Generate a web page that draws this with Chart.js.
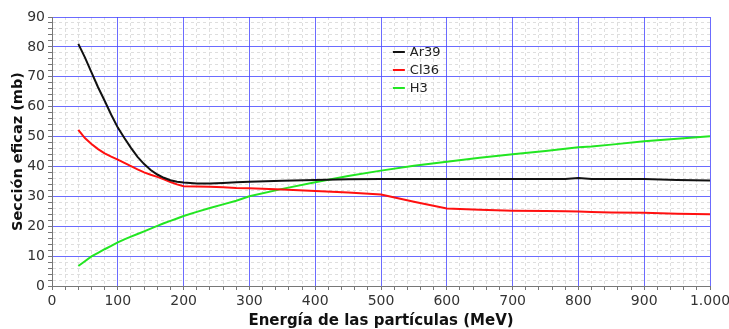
<!DOCTYPE html>
<html>
<head>
<meta charset="utf-8">
<script src="https://cdn.jsdelivr.net/npm/chart.js@4/dist/chart.umd.min.js"></script>
<style>
  html, body { margin: 0; padding: 0; background: #fff; }
  #chart { display: block; }
</style>
</head>
<body>
<canvas id="chart" width="729" height="329"></canvas>
<script>
// Sección eficaz vs energía de las partículas (Ar39 / Cl36 / H3)

// ── data ──────────────────────────────────────────────────────────────────────
const energies = [40, 50, 60, 70, 80, 90, 100, 110, 120, 130, 140, 150, 160, 170, 180, 190, 200,
    220, 240, 260, 280, 300, 350, 400, 450, 500, 550, 600, 650, 700, 750, 780, 800, 820, 850, 900, 950, 1000];

const ar39 = [81, 76.5, 71.5, 66.5, 62, 57.3, 53, 49.5, 46.2, 43.2, 40.8, 38.8, 37.3, 36.2, 35.4, 34.9, 34.6,
    34.3, 34.3, 34.5, 34.7, 34.9, 35.2, 35.5, 35.7, 35.8, 35.8, 35.8, 35.8, 35.8, 35.8, 35.8, 36.1, 35.8, 35.8, 35.8, 35.5, 35.3];

const cl36 = [52.2, 49.5, 47.5, 45.8, 44.4, 43.3, 42.3, 41.2, 40.1, 39, 38, 37.2, 36.5, 35.7, 34.8, 34, 33.4,
    33.3, 33.2, 33.0, 32.8, 32.7, 32.3, 31.8, 31.3, 30.6, 28.2, 25.9, 25.5, 25.2, 25.1, 25, 24.9, 24.8, 24.6, 24.5, 24.2, 24.0];

const h3 = [6.7, 8.3, 9.9, 11.1, 12.3, 13.4, 14.6, 15.6, 16.5, 17.4, 18.3, 19.2, 20.1, 21, 21.8, 22.6, 23.4,
    24.8, 26.1, 27.3, 28.5, 30.0, 32.5, 34.7, 36.8, 38.6, 40.2, 41.6, 42.9, 44.1, 45.2, 45.9, 46.4, 46.7, 47.3, 48.4, 49.3, 50.1];

const seriesLabels = ['Ar39', 'Cl36', 'H3'];
const xTickLabels = ['0', '100', '200', '300', '400', '500', '600', '700', '800', '900', '1.000'];
const yTickLabels = ['0', '10', '20', '30', '40', '50', '60', '70', '80', '90'];

// ── style ─────────────────────────────────────────────────────────────────────
const FONT = 'DejaVu Sans';
const MAJOR_COLOR = 'rgba(70,70,255,0.8)';
const MINOR_COLOR = 'rgba(0,0,0,0.13)';
const TICK_COLOR = '#777';

function points(ys) {
    return energies.map((x, i) => ({ x, y: ys[i] }));
}

function isMajor(value, step) {
    return Math.abs(value / step - Math.round(value / step)) < 1e-6;
}

// scale with minor steps, blue solid lines on major steps, dashed grey elsewhere
function gridScale(min, max, minorStep, majorStep, labels, title, titleSize, afterFit) {
    return {
        type: 'linear', min, max,
        afterFit,
        ticks: {
            stepSize: minorStep, autoSkip: false, maxRotation: 0,
            color: '#333', padding: 3,
            font: { family: FONT, size: 14 },
            callback: v => isMajor(v, majorStep) ? labels[Math.round(v / majorStep)] : ''
        },
        grid: {
            color: c => c.tick && isMajor(c.tick.value, majorStep) ? MAJOR_COLOR : MINOR_COLOR,
            lineWidth: 1,
            tickLength: 4,
            tickColor: TICK_COLOR
        },
        border: {
            display: true, color: TICK_COLOR, width: 1,
            dash: c => (c.tick && !isMajor(c.tick.value, majorStep)) ? [3, 3] : []
        },
        title: {
            display: true, text: title, color: '#111',
            font: { family: FONT, size: titleSize, weight: 'bold', lineHeight: 1.1 },
            padding: { top: 0, bottom: 0 }
        }
    };
}

// legend drawn inside the plot area, as in the original
const insideLegend = {
    id: 'insideLegend',
    afterDatasetsDraw(chart) {
        const { ctx, chartArea } = chart;
        const x0 = chartArea.left + chartArea.width * 0.518;
        ctx.save();
        ctx.font = `13px ${FONT}`;
        ctx.textBaseline = 'middle';
        chart.data.datasets.forEach((ds, i) => {
            const y = chartArea.top + 35 + i * 18;
            ctx.strokeStyle = ds.borderColor;
            ctx.lineWidth = 2;
            ctx.beginPath();
            ctx.moveTo(x0, y);
            ctx.lineTo(x0 + 12, y);
            ctx.stroke();
            ctx.fillStyle = '#222';
            ctx.fillText(ds.label, x0 + 17, y + 1);
        });
        ctx.restore();
    }
};

// ── chart ─────────────────────────────────────────────────────────────────────
const colors = ['#111111', '#ff1010', '#22e622'];
const seriesData = [ar39, cl36, h3];

new Chart(document.getElementById('chart').getContext('2d'), {
    type: 'line',
    data: {
        datasets: seriesData.map((ys, i) => ({
            label: seriesLabels[i],
            data: points(ys),
            borderColor: colors[i],
            borderWidth: 2,
            pointRadius: 0,
            tension: 0,
            fill: false
        }))
    },
    options: {
        responsive: false,
        animation: false,
        layout: { padding: { left: 10, right: 19, top: 17, bottom: 0 } },
        plugins: { legend: { display: false }, tooltip: { enabled: false } },
        scales: {
            x: gridScale(0, 1000, 20, 100, xTickLabels, 'Energía de las partículas (MeV)', 15,
                s => { s.height = 43; s.paddingRight = 0; s.paddingLeft = 0; }),
            y: gridScale(0, 90, 2, 10, yTickLabels, 'Sección eficaz (mb)', 14.5,
                s => { s.width = 42; s.paddingTop = 0; s.paddingBottom = 0; })
        }
    },
    plugins: [insideLegend]
});
</script>
</body>
</html>
